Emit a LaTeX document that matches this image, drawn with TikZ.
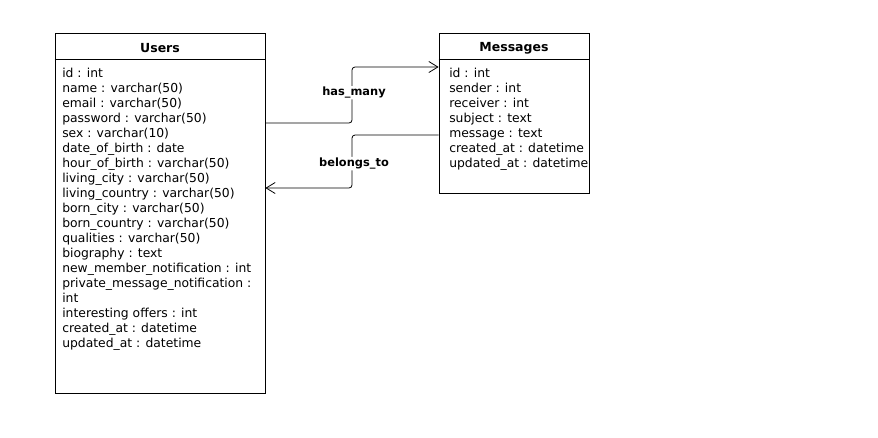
\documentclass[tikz,border=0pt]{standalone}
\usepackage{fontspec}
\setmainfont{DejaVu Sans}
\usetikzlibrary{arrows.meta}

\tikzset{
	table/.style = { draw, thick, rectangle, inner sep=0pt },
	title/.style = { font=\fontsize{12.5}{15}\selectfont\bfseries, inner sep=0pt },
	field/.style = { font=\fontsize{12.35}{15}\selectfont, inner sep=0pt, anchor=base west },
	relation/.style = { thick, rounded corners=3pt, -{Straight Barb[length=9pt, width=11pt]} },
	rellabel/.style = { font=\fontsize{11.4}{13}\selectfont\bfseries, fill=white, inner sep=1pt }
}

\begin{document}
\begin{tikzpicture}[x=1pt, y=-1pt, line width=0.6pt]
	  \useasboundingbox [ fill=white ] (0,0) rectangle (878,437);

	  % tables
	  \node [ table, minimum width=210pt, minimum height=360pt ] (users) at (160,213) {};
	  \node [ table, minimum width=150pt, minimum height=160pt ] (msgs) at (514,113) {};

	  \draw (users.north west) ++(0,27) -- ++(210,0);
	  \draw (msgs.north west) ++(0,27) -- ++(150,0);

	  \node [ title ] (userstitle) at (160,48) { Users };
	  \node [ title ] (msgstitle) at (514,48) { Messages };

	  % fields
	  \foreach \f [count=\i from 0] in {id : int, name : varchar(50), email : varchar(50),
	    password : varchar(50), sex : varchar(10), date\_of\_birth : date,
	    hour\_of\_birth : varchar(50), living\_city : varchar(50), living\_country : varchar(50),
	    born\_city : varchar(50), born\_country : varchar(50), qualities : varchar(50),
	    biography : text, new\_member\_notification : int, private\_message\_notification :,
	    int, interesting offers : int, created\_at : datetime, updated\_at : datetime}
	    \node [ field ] (u\i) at (62,{77+15*\i}) {\f};

	  \foreach \f [count=\i from 0] in {id : int, sender : int, receiver : int,
	    subject : text, message : text, created\_at : datetime, updated\_at : datetime}
	    \node [ field ] (m\i) at (449,{77+15*\i}) {\f};

	  % relations
	  \coordinate (hmbend) at (352,67);
	  \coordinate (btbend) at (352,188);
	  \draw [ relation ] (users.east |- 0,123) -| node [ rellabel, pos=0.77, xshift=2pt ] { has\_many } (hmbend) -- (msgs.west |- hmbend);
	  \draw [ relation ] (msgs.west |- 0,135) -| node [ rellabel, pos=0.77, xshift=2pt ] { belongs\_to } (btbend) -- (users.east |- btbend);
\end{tikzpicture}
\end{document}
